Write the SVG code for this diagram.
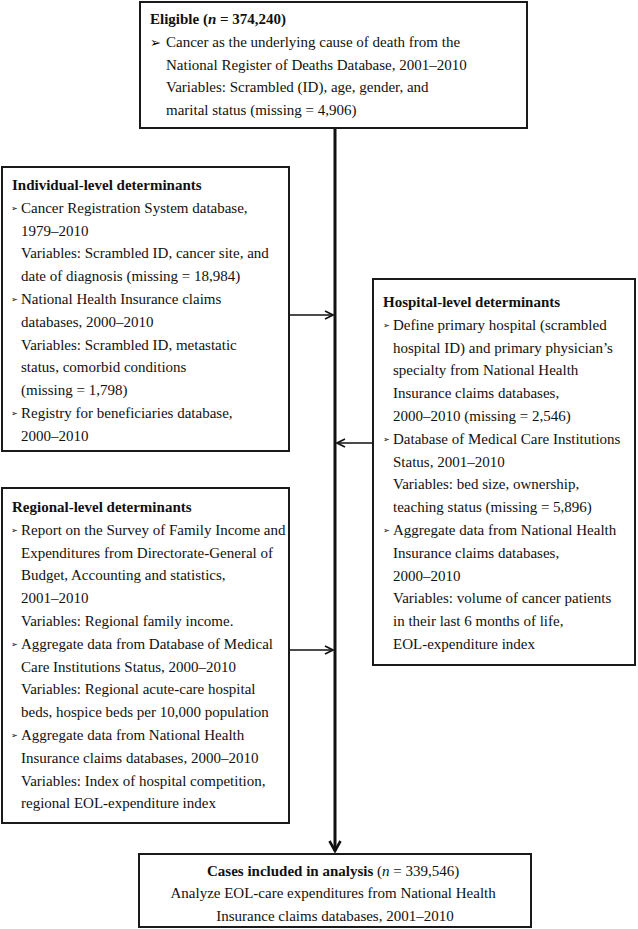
<svg xmlns="http://www.w3.org/2000/svg" width="638" height="929" viewBox="0 0 638 929">
<style>
.box{fill:#fff;stroke:#1a1a1a;stroke-width:2}
.t{font-family:"Liberation Serif","Times New Roman",serif;font-size:15px;fill:#111}
.b{font-weight:bold}
.bul{font-family:"DejaVu Sans",sans-serif;font-size:8px}
.bulL{font-family:"DejaVu Sans",sans-serif;font-size:13px}
.ln{stroke:#111;fill:none}
</style>
<defs>
<marker id="ah" viewBox="0 0 10 10" refX="9" refY="5" markerWidth="10" markerHeight="10" markerUnits="userSpaceOnUse" orient="auto">
<path d="M1,1 L9,5 L1,9" fill="none" stroke="#111" stroke-width="1.6"/>
</marker>
<marker id="ahB" viewBox="0 0 14 14" refX="12" refY="7" markerWidth="14" markerHeight="14" markerUnits="userSpaceOnUse" orient="auto">
<path d="M2,1.5 L12,7 L2,12.5" fill="none" stroke="#111" stroke-width="2.6"/>
</marker>
</defs>
<rect width="638" height="929" fill="#fff"/>

<g id="connectors">
<line class="ln" x1="335" y1="128" x2="335" y2="851" stroke-width="3" marker-end="url(#ahB)"/>
<line class="ln" x1="289" y1="315" x2="333" y2="315" stroke-width="1.6" marker-end="url(#ah)"/>
<line class="ln" x1="373" y1="443" x2="337" y2="443" stroke-width="1.6" marker-end="url(#ah)"/>
<line class="ln" x1="289" y1="650" x2="333" y2="650" stroke-width="1.6" marker-end="url(#ah)"/>
</g>

<g id="eligible">
<rect class="box" x="140" y="2" width="387" height="126"/>
<text class="t"><tspan class="b" x="150" y="24">Eligible (<tspan font-style="italic">n</tspan> = 374,240)</tspan></text>
<text class="bulL" x="150" y="46.8">➢</text>
<text class="t">
<tspan x="166" y="46.8">Cancer as the underlying cause of death from the</tspan>
<tspan x="166" y="69.6">National Register of Deaths Database, 2001–2010</tspan>
<tspan x="166" y="92.4">Variables: Scrambled (ID), age, gender, and</tspan>
<tspan x="166" y="115.2">marital status (missing = 4,906)</tspan>
</text>
</g>

<g id="individual">
<rect class="box" x="2" y="167" width="287" height="284"/>
<text class="t b" x="12" y="190">Individual-level determinants</text>
<text class="bul"><tspan x="11" y="211">➢</tspan><tspan x="11" y="302.2">➢</tspan><tspan x="11" y="416.2">➢</tspan></text>
<text class="t">
<tspan x="21" y="212.8">Cancer Registration System database,</tspan>
<tspan x="21" y="235.6">1979–2010</tspan>
<tspan x="21" y="258.4">Variables: Scrambled ID, cancer site, and</tspan>
<tspan x="21" y="281.2">date of diagnosis (missing = 18,984)</tspan>
<tspan x="21" y="304">National Health Insurance claims</tspan>
<tspan x="21" y="326.8">databases, 2000–2010</tspan>
<tspan x="21" y="349.6">Variables: Scrambled ID, metastatic</tspan>
<tspan x="21" y="372.4">status, comorbid conditions</tspan>
<tspan x="21" y="395.2">(missing = 1,798)</tspan>
<tspan x="21" y="418">Registry for beneficiaries database,</tspan>
<tspan x="21" y="440.8">2000–2010</tspan>
</text>
</g>

<g id="hospital">
<rect class="box" x="373" y="279" width="262" height="386"/>
<text class="t b" x="383" y="307">Hospital-level determinants</text>
<text class="bul"><tspan x="383" y="328">➢</tspan><tspan x="383" y="442">➢</tspan><tspan x="383" y="533.2">➢</tspan></text>
<text class="t">
<tspan x="393" y="329.8">Define primary hospital (scrambled</tspan>
<tspan x="393" y="352.6">hospital ID) and primary physician’s</tspan>
<tspan x="393" y="375.4">specialty from National Health</tspan>
<tspan x="393" y="398.2">Insurance claims databases,</tspan>
<tspan x="393" y="421">2000–2010 (missing = 2,546)</tspan>
<tspan x="393" y="443.8">Database of Medical Care Institutions</tspan>
<tspan x="393" y="466.6">Status, 2001–2010</tspan>
<tspan x="393" y="489.4">Variables: bed size, ownership,</tspan>
<tspan x="393" y="512.2">teaching status (missing = 5,896)</tspan>
<tspan x="393" y="535">Aggregate data from National Health</tspan>
<tspan x="393" y="557.8">Insurance claims databases,</tspan>
<tspan x="393" y="580.6">2000–2010</tspan>
<tspan x="393" y="603.4">Variables: volume of cancer patients</tspan>
<tspan x="393" y="626.2">in their last 6 months of life,</tspan>
<tspan x="393" y="649">EOL-expenditure index</tspan>
</text>
</g>

<g id="regional">
<rect class="box" x="2" y="488" width="287" height="335"/>
<text class="t b" x="12" y="512">Regional-level determinants</text>
<text class="bul"><tspan x="11" y="533">➢</tspan><tspan x="11" y="647">➢</tspan><tspan x="11" y="738.2">➢</tspan></text>
<text class="t">
<tspan x="21" y="534.8">Report on the Survey of Family Income and</tspan>
<tspan x="21" y="557.6">Expenditures from Directorate-General of</tspan>
<tspan x="21" y="580.4">Budget, Accounting and statistics,</tspan>
<tspan x="21" y="603.2">2001–2010</tspan>
<tspan x="21" y="626">Variables: Regional family income.</tspan>
<tspan x="21" y="648.8">Aggregate data from Database of Medical</tspan>
<tspan x="21" y="671.6">Care Institutions Status, 2000–2010</tspan>
<tspan x="21" y="694.4">Variables: Regional acute-care hospital</tspan>
<tspan x="21" y="717.2">beds, hospice beds per 10,000 population</tspan>
<tspan x="21" y="740">Aggregate data from National Health</tspan>
<tspan x="21" y="762.8">Insurance claims databases, 2000–2010</tspan>
<tspan x="21" y="785.6">Variables: Index of hospital competition,</tspan>
<tspan x="21" y="808.4">regional EOL-expenditure index</tspan>
</text>
</g>

<g id="included">
<rect class="box" x="139" y="854" width="392" height="73"/>
<text class="t" text-anchor="middle">
<tspan x="335" y="875.5"><tspan class="b">Cases included in analysis</tspan> (<tspan font-style="italic">n</tspan> = 339,546)</tspan>
<tspan x="335" y="898">Analyze EOL-care expenditures from National Health</tspan>
<tspan x="335" y="920.5">Insurance claims databases, 2001–2010</tspan>
</text>
</g>
</svg>
